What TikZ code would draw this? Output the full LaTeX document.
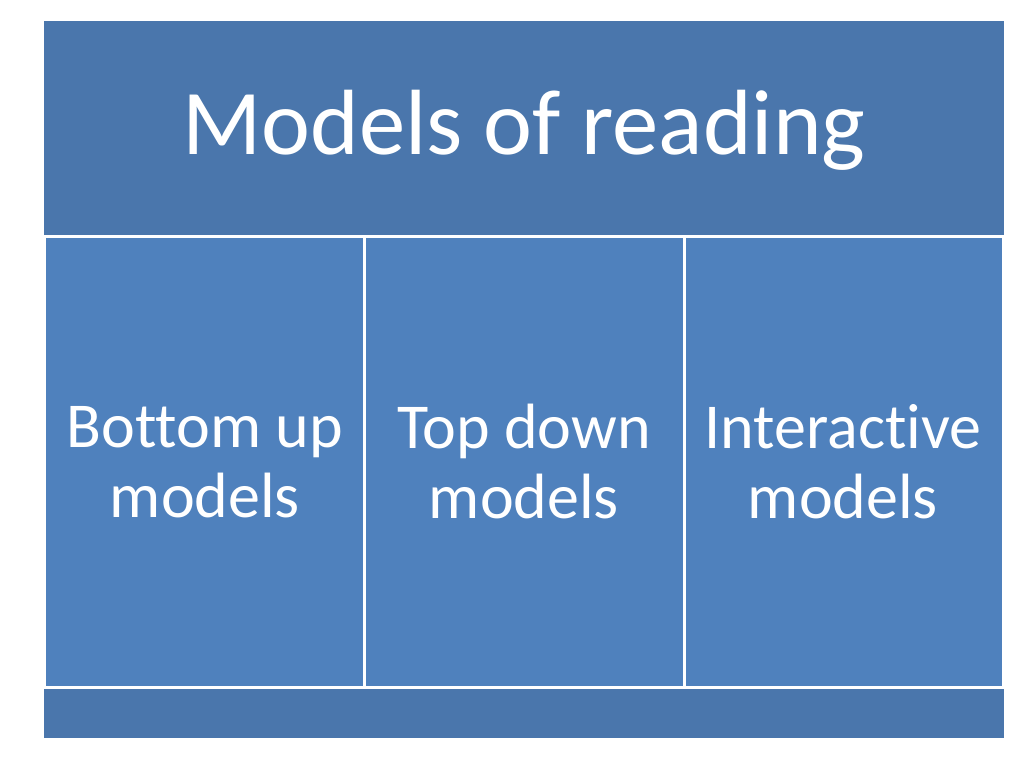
\documentclass[tikz,border=0pt]{standalone}
\usepackage{fontspec}
\setmainfont[Ligatures=NoCommon]{Carlito}
\definecolor{hdr}{HTML}{4A76AC}
\definecolor{cell}{HTML}{4F81BD}
\begin{document}
\begin{tikzpicture}[x=0.75pt,y=-0.75pt,
  band/.style={fill=hdr,draw=none},
  cellbox/.style={fill=cell,draw=none},
  sep/.style={draw=white,line width=2.2pt},
  celltext/.style={text=white,font=\fontsize{48}{52.5}\selectfont,align=center},
  headtext/.style={text=white,font=\fontsize{69.5}{80}\selectfont}]
\useasboundingbox[fill=white] (0,0) rectangle (1024,768);
\fill[band] (44,21) rectangle (1004,236);
\fill[band] (44,688) rectangle (1004,738);
\fill[cellbox] (46,237) rectangle (1002,687);
\draw[sep] (44,236.5) -- (1004,236.5);
\draw[sep] (44,687.5) -- (1004,687.5);
\draw[sep] (364.5,236.5) -- (364.5,687.5);
\draw[sep] (684.5,236.5) -- (684.5,687.5);
\node[headtext] (title) at (524,130) {Models of reading};
\node[celltext] (c1) at (205,462) {Bottom up\\models};
\node[celltext] (c2) at (524,462) {Top down\\models};
\node[celltext] (c3) at (843,462) {Interactive\\models};
\end{tikzpicture}
\end{document}
